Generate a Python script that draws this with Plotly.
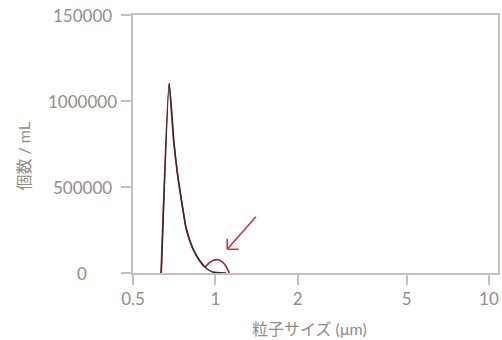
import plotly.graph_objects as go
import math

# data
size_black = [0.6346, 0.6785, 0.7053, 0.7294, 0.7606, 0.7824, 0.827, 0.8745, 0.925, 0.9777, 1.094]
count_black = [0, 1102000, 766000, 565000, 376000, 260000, 143000, 74000, 29000, 5800, 0]

size_red = [0.6330, 0.6770, 0.7040, 0.7280, 0.7590, 0.7810, 0.826, 0.8735, 0.915, 0.951, 0.983, 1.025, 1.060, 1.094, 1.124]
count_red = [0, 1102000, 766000, 565000, 376000, 260000, 143000, 74000, 35000, 60000, 74000, 77000, 65000, 39000, 0]

x_tickvals = [0.5, 1, 2, 5, 10]
x_ticktext = ["0.5", "1", "2", "5", "10"]
y_tickvals = [0, 500000, 1000000, 1500000]
y_ticktext = ["0", "500000", "1000000", "150000"]

text_col = "#938c88"
axis_col = "#c9bfba"
font_fam = "Lato, 'Noto Sans CJK JP', sans-serif"

fig = go.Figure()
fig.add_trace(go.Scatter(x=size_red, y=count_red, mode="lines",
                         line=dict(color="#b0202e", width=1.6, shape="spline", smoothing=0.5),
                         showlegend=False, hoverinfo="skip"))
fig.add_trace(go.Scatter(x=size_black, y=count_black, mode="lines",
                         line=dict(color="#2e2e2e", width=1.4, shape="spline", smoothing=0.5),
                         showlegend=False, hoverinfo="skip"))

L, R, T, B = 133, 2, 15, 67
W, H = 502, 340
pw = W - L - R
ph = H - T - B

annotations = []
for v, t in zip(y_tickvals, y_ticktext):
    annotations.append(dict(x=(82 - L) / pw, xref="paper", y=v, yref="y", text=t,
                            showarrow=False, xanchor="center", yanchor="middle",
                            font=dict(family=font_fam, size=17, color=text_col)))
annotations.append(dict(x=(22 - L) / pw, xref="paper", y=(H - B - 156) / ph, yref="paper",
                        text="個数 / mL", textangle=-90, showarrow=False,
                        xanchor="center", yanchor="middle",
                        font=dict(family=font_fam, size=16, color=text_col)))
annotations.append(dict(x=(310 - L) / pw, xref="paper", y=(H - B - 328) / ph, yref="paper",
                        text="粒子サイズ (μm)", showarrow=False,
                        xanchor="center", yanchor="middle",
                        font=dict(family=font_fam, size=16, color=text_col)))

# arrow pointing at the bump
tip_x = math.log10(1.105)
tip_y = 138000
arrow_col = "#d3303e"
for ax, ay in [(30, -34), (0, -12), (13, 0)]:
    annotations.append(dict(x=tip_x, y=tip_y, xref="x", yref="y", text="",
                            showarrow=True, arrowhead=0, arrowwidth=1.6,
                            arrowcolor=arrow_col, ax=ax, ay=ay, standoff=0, startstandoff=0))

fig.update_layout(
    width=W, height=H,
    margin=dict(l=L, r=R, t=T, b=B),
    paper_bgcolor="white", plot_bgcolor="white",
    font=dict(family=font_fam, color=text_col),
    annotations=annotations,
    xaxis=dict(type="log", range=[math.log10(0.5), 1.033],
               tickvals=x_tickvals, ticktext=x_ticktext,
               tickfont=dict(size=17, color=text_col),
               showgrid=False, zeroline=False,
               showline=True, linecolor=axis_col, linewidth=2, mirror=True,
               ticks="outside", ticklen=10, tickwidth=1.5, tickcolor=axis_col),
    yaxis=dict(range=[0, 1500000],
               tickvals=y_tickvals, showticklabels=False,
               showgrid=False, zeroline=False,
               showline=True, linecolor=axis_col, linewidth=2, mirror=True,
               ticks="outside", ticklen=10, tickwidth=1.5, tickcolor=axis_col),
)

fig.write_html("out.html", config={"displayModeBar": False},
               post_script="document.body.style.margin='0';document.body.style.overflow='hidden';")
